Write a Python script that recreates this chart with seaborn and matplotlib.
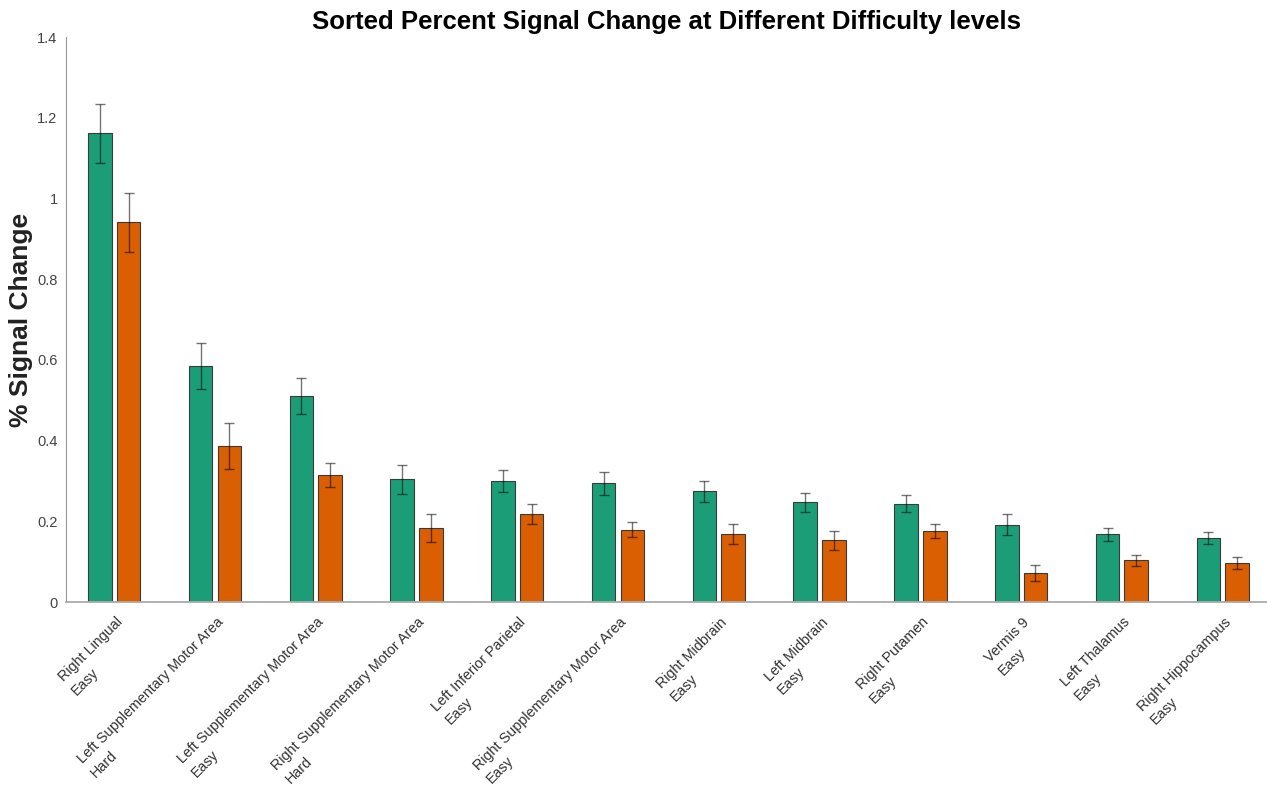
import matplotlib
matplotlib.use("Agg")
import matplotlib.pyplot as plt
from matplotlib.transforms import ScaledTranslation
from matplotlib.ticker import FuncFormatter
import numpy as np
import pandas as pd
import seaborn as sns

# Regions sorted by signal change, with the difficulty level shown under each name
regions = [
    "Right Lingual", "Left Supplementary Motor Area", "Left Supplementary Motor Area",
    "Right Supplementary Motor Area", "Left Inferior Parietal", "Right Supplementary Motor Area",
    "Right Midbrain", "Left Midbrain", "Right Putamen", "Vermis 9",
    "Left Thalamus", "Right Hippocampus",
]
levels = ["Easy", "Hard", "Easy", "Hard", "Easy", "Easy",
          "Easy", "Easy", "Easy", "Easy", "Easy", "Easy"]

series_names = ["Easy", "Hard"]
easy_mean = [1.162, 0.585, 0.510, 0.304, 0.299, 0.294, 0.274, 0.247, 0.244, 0.192, 0.168, 0.158]
easy_err = [0.073, 0.057, 0.044, 0.036, 0.027, 0.028, 0.025, 0.023, 0.020, 0.025, 0.016, 0.015]
hard_mean = [0.941, 0.387, 0.314, 0.184, 0.219, 0.179, 0.168, 0.153, 0.176, 0.072, 0.103, 0.096]
hard_err = [0.073, 0.057, 0.030, 0.035, 0.025, 0.019, 0.025, 0.024, 0.017, 0.021, 0.014, 0.015]

palette = ["#1b9e77", "#d95f02"]

labels = [f"{r}\n{l}" for r, l in zip(regions, levels)]

df = pd.DataFrame({
    "label": labels * 2,
    "series": [series_names[0]] * len(labels) + [series_names[1]] * len(labels),
    "value": easy_mean + hard_mean,
    "err": easy_err + hard_err,
})

sns.set_style("white")
plt.rcParams["font.family"] = ["Liberation Sans", "DejaVu Sans"]

fig = plt.figure(figsize=(12.67, 7.88), dpi=100)
ax = fig.add_axes([0.052, 0.236, 0.948, 0.717])

sns.barplot(
    data=df, x="label", y="value", hue="series", order=labels,
    hue_order=series_names, palette=palette, saturation=1, errorbar=None,
    width=0.57, gap=0.18, edgecolor="#3a3a3a", linewidth=0.8,
    legend=False, ax=ax,
)

# Error bars on top of each bar, taken from the drawn bar containers
errs = [easy_err, hard_err]
for cont, e in zip(ax.containers, errs):
    xs = [p.get_x() + p.get_width() / 2 for p in cont.patches]
    ys = [p.get_height() for p in cont.patches]
    ax.errorbar(xs, ys, yerr=e, fmt="none", ecolor="black", alpha=0.55,
                elinewidth=1.0, capsize=3.5, capthick=1.0, zorder=5)

ax.set_xlim(-0.48, len(labels) - 0.56)
ax.set_ylim(0, 1.4)
ax.set_yticks(np.arange(0, 1.41, 0.2))
ax.yaxis.set_major_formatter(FuncFormatter(lambda v, _: f"{v:g}"))

ax.tick_params(axis="both", length=0, colors="#444444", labelsize=10.5)
ax.tick_params(axis="y", pad=6)
ax.tick_params(axis="x", pad=9.4, labelsize=10.4)
for lbl in ax.get_xticklabels():
    lbl.set_rotation(45)
    lbl.set_rotation_mode("anchor")
    lbl.set_ha("right")
    lbl.set_va("top")
    lbl.set_multialignment("left")
    lbl.set_linespacing(1.45)
    lbl.set_color("#333333")
    lbl.set_transform(lbl.get_transform() + ScaledTranslation(1 / 100, 0, fig.dpi_scale_trans))

sns.despine(ax=ax)
ax.spines["left"].set_color("#999999")
ax.spines["left"].set_linewidth(0.8)
ax.spines["bottom"].set_color("#aaaaaa")
ax.spines["bottom"].set_linewidth(1.3)

ax.set_xlabel("")
ax.set_ylabel("% Signal Change", fontsize=19, fontweight="bold", color="#222222")
ax.yaxis.set_label_coords(-0.0275, 0.5)
ax.set_title("Sorted Percent Signal Change at Different Difficulty levels",
             fontsize=18.5, fontweight="bold", color="black", pad=6)

fig.savefig("out.png", dpi=100)
